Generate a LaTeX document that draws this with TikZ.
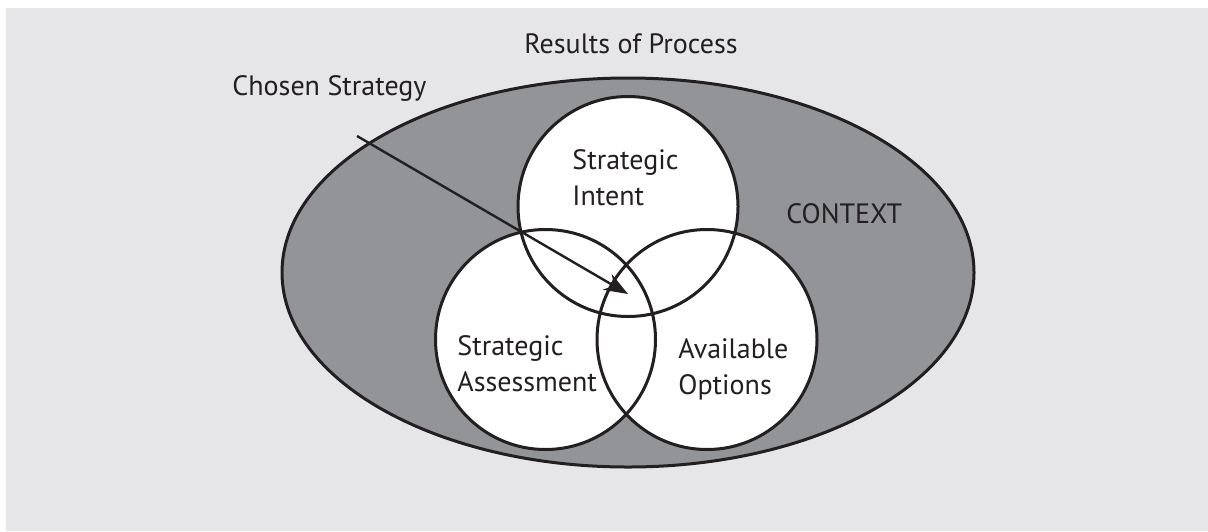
\documentclass[tikz,border=0pt]{standalone}
\usepackage{fontspec}
\setmainfont{PT Sans}
\usetikzlibrary{shapes.geometric,arrows.meta}
\definecolor{bg_grey}{RGB}{230,230,232}
\definecolor{ctx_grey}{RGB}{147,148,152}
\definecolor{ink}{RGB}{35,31,32}
\tikzstyle{disc}=[circle,fill=white,minimum size=110pt,inner sep=0pt]
\tikzstyle{ring}=[circle,draw=ink,line width=1.5pt,minimum size=110pt,inner sep=0pt]
\tikzstyle{lbl}=[text=ink,inner sep=0pt,align=left,font=\fontsize{14}{18}\selectfont]

\begin{document}
\begin{tikzpicture}[x=0.5pt,y=-0.5pt]
    \useasboundingbox (0,0) rectangle (1208,531);
    \fill[bg_grey] (6,8) rectangle (1208,531);
    \node [ellipse,fill=ctx_grey,draw=ink,line width=1.5pt,inner sep=0pt,
      minimum width=346pt,minimum height=194.5pt] (context) at (628,272.5) {};
    % the three sets
    \node [style=disc] (intent) at (628,206.5) {};
    \node [style=disc] (assess) at (545.5,339.5) {};
    \node [style=disc] (options) at (707,339.5) {};
    \node [style=ring] at (intent) {};
    \node [style=ring] at (assess) {};
    \node [style=ring] at (options) {};
    % labels
    \node [style=lbl,anchor=base] (results) at (631,53) {Results of Process};
    \node [style=lbl,anchor=base west] (chosen) at (232,95) {Chosen Strategy};
    \node [style=lbl,anchor=base west] (ctxlabel) at (786,223) {CONTEXT};
    \node [style=lbl,anchor=west] (intentlabel) at (572,178) {Strategic\\Intent};
    \node [style=lbl,anchor=west] (assesslabel) at (457,364) {Strategic\\Assessment};
    \node [style=lbl,anchor=west] (optionslabel) at (678,369) {Available\\Options};
    % pointer to the common core
    \coordinate (tail) at (357,136);
    \coordinate (core) at (628,294);
    \draw [ink,line width=1.2pt,-{Stealth[length=12pt,width=9pt]}] (tail) to (core);
\end{tikzpicture}
\end{document}
